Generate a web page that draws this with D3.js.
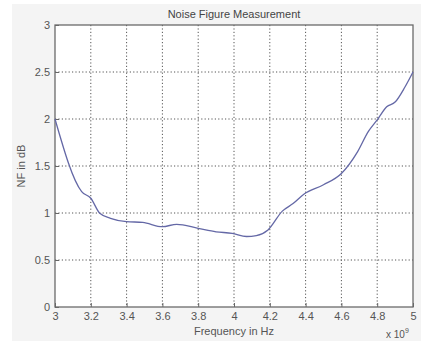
<!DOCTYPE html>
<html>
<head>
<meta charset="utf-8">
<script src="https://cdn.jsdelivr.net/npm/d3@7"></script>
<style>
  body { margin: 0; background: #fff; }
  text { font-family: "Liberation Sans", Arial, sans-serif; }
</style>
</head>
<body>
<div id="chart"></div>
<script>
// Frequency (x 1e9 Hz) and noise figure (dB)
const freq = [3.0, 3.149, 3.2, 3.25, 3.31, 3.4, 3.49, 3.6, 3.68, 3.8, 3.9, 3.99, 4.07, 4.125,
  4.19, 4.27, 4.33, 4.39, 4.5, 4.6, 4.69, 4.75, 4.8, 4.853, 4.9, 4.955, 5.0];
const nf = [2.0, 1.227, 1.157, 0.997, 0.944, 0.908, 0.90, 0.854, 0.88, 0.837, 0.80, 0.784, 0.75, 0.76,
  0.82, 1.02, 1.10, 1.20, 1.30, 1.42, 1.65, 1.865, 1.99, 2.13, 2.18, 2.34, 2.5];
const xTicks = [3, 3.2, 3.4, 3.6, 3.8, 4, 4.2, 4.4, 4.6, 4.8, 5];
const yTicks = [0, 0.5, 1, 1.5, 2, 2.5, 3];

const W = 421, H = 343;
const margin = { top: 25, right: 8, bottom: 36, left: 55 };
const width = W - margin.left - margin.right;
const height = H - margin.top - margin.bottom;

const svg = d3.select('#chart').append('svg')
    .attr('width', W)
    .attr('height', H);

// light grey figure background
svg.append('rect')
    .attr('x', 12).attr('y', 4)
    .attr('width', W - 12).attr('height', 337)
    .attr('fill', '#f4f4f4');

const g = svg.append('g')
    .attr('transform', `translate(${margin.left},${margin.top})`);

g.append('rect')
    .attr('width', width).attr('height', height)
    .attr('fill', '#fff');

const x = d3.scaleLinear().domain([3, 5]).range([0, width]);
const y = d3.scaleLinear().domain([0, 3]).range([height, 0]);

// grid
g.append('g')
    .selectAll('line')
    .data(xTicks.slice(1, -1))
    .join('line')
    .attr('x1', d => x(d)).attr('x2', d => x(d))
    .attr('y1', 0).attr('y2', height)
    .attr('stroke', '#555')
    .attr('stroke-width', 1)
    .attr('stroke-dasharray', '1.2,2.2');

g.append('g')
    .selectAll('line')
    .data(yTicks.slice(1, -1))
    .join('line')
    .attr('y1', d => y(d)).attr('y2', d => y(d))
    .attr('x1', 0).attr('x2', width)
    .attr('stroke', '#555')
    .attr('stroke-width', 1)
    .attr('stroke-dasharray', '1.2,2.2');

// axes (ticks pointing inward)
const xAxis = g.append('g')
    .attr('transform', `translate(0,${height})`)
    .call(d3.axisBottom(x).tickValues(xTicks).tickSize(-4).tickPadding(5).tickFormat(d3.format('')));
const yAxis = g.append('g')
    .call(d3.axisLeft(y).tickValues(yTicks).tickSize(-4).tickPadding(5).tickFormat(d3.format('')));

[xAxis, yAxis].forEach(a => {
    a.select('.domain').remove();
    a.selectAll('line').attr('stroke', '#666');
    a.selectAll('text').attr('fill', '#555').style('font-size', '11px');
});

// box
g.append('rect')
    .attr('width', width).attr('height', height)
    .attr('fill', 'none')
    .attr('stroke', '#6a6a6a')
    .attr('stroke-width', 1.3);

// data line
const line = d3.line()
    .x((d, i) => x(freq[i]))
    .y(d => y(d))
    .curve(d3.curveMonotoneX);

g.append('path')
    .datum(nf)
    .attr('d', line)
    .attr('fill', 'none')
    .attr('stroke', '#6468a6')
    .attr('stroke-width', 1.3);

// labels
svg.append('text')
    .attr('x', margin.left + width / 2).attr('y', 18)
    .attr('text-anchor', 'middle')
    .style('font-size', '11px').attr('fill', '#444')
    .text('Noise Figure Measurement');

svg.append('text')
    .attr('x', margin.left + width / 2).attr('y', 335)
    .attr('text-anchor', 'middle')
    .style('font-size', '11px').attr('fill', '#555')
    .text('Frequency in Hz');

svg.append('text')
    .attr('transform', `translate(25,${margin.top + y(1.5)}) rotate(-90)`)
    .attr('text-anchor', 'middle')
    .style('font-size', '11px').attr('fill', '#555')
    .text('NF in dB');

const expo = svg.append('text')
    .attr('x', 386).attr('y', 338)
    .style('font-size', '10px').attr('fill', '#555');
expo.append('tspan').text('x 10');
expo.append('tspan').attr('dy', -5).style('font-size', '7px').text('9');
</script>
</body>
</html>
